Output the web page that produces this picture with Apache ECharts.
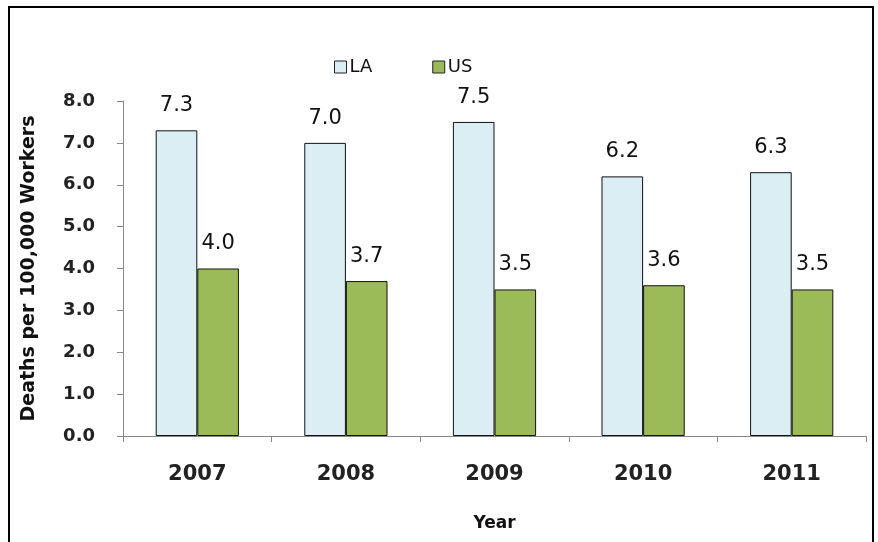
<!DOCTYPE html>
<html>
<head>
<meta charset="utf-8">
<script src="https://cdn.jsdelivr.net/npm/echarts@6/dist/echarts.min.js"></script>
<style>
  html, body { margin: 0; padding: 0; background: #fff; }
  #chart { width: 878px; height: 542px; }
</style>
</head>
<body>
<div id="chart"></div>
<script>
const years = ["2007", "2008", "2009", "2010", "2011"];
const laValues = [7.3, 7.0, 7.5, 6.2, 6.3];
const usValues = [4.0, 3.7, 3.5, 3.6, 3.5];
const yTicks = { min: 0, max: 8, interval: 1 };

const mc = echarts.init(document.getElementById("chart"));

const labelStyle = {
  show: true,
  position: "top",
  distance: 14,
  fontFamily: "DejaVu Sans",
  fontSize: 21,
  color: "#111",
  formatter: (p) => p.value.toFixed(1),
};

const option = {
  animation: false,
  backgroundColor: "#fff",
  graphic: [
    {
      type: "rect",
      shape: { x: 9, y: 7, width: 864, height: 560 },
      style: { fill: "none", stroke: "#000", lineWidth: 2 },
      silent: true,
    },
  ],
  legend: {
    top: 53,
    left: 329,
    itemGap: 60,
    itemWidth: 12,
    itemHeight: 12,
    icon: "rect",
    itemStyle: { borderColor: "#222", borderWidth: 1 },
    textStyle: {
      fontFamily: "DejaVu Sans",
      fontSize: 18,
      color: "#111",
      padding: [0, 0, 0, -2],
    },
    data: ["LA", "US"],
  },
  grid: {
    left: 123,
    right: 12,
    top: 101,
    bottom: 106,
  },
  xAxis: {
    type: "category",
    data: years,
    name: "Year",
    nameLocation: "middle",
    nameGap: 79,
    nameTextStyle: {
      fontFamily: "DejaVu Sans",
      fontWeight: "bold",
      fontSize: 17,
      color: "#111",
    },
    axisLine: { lineStyle: { color: "#888", width: 1 } },
    axisTick: { show: true, length: 6, lineStyle: { color: "#888" } },
    axisLabel: {
      margin: 28,
      fontFamily: "DejaVu Sans",
      fontWeight: "bold",
      fontSize: 21,
      color: "#222",
    },
  },
  yAxis: {
    type: "value",
    min: yTicks.min,
    max: yTicks.max,
    interval: yTicks.interval,
    name: "Deaths per 100,000 Workers",
    nameLocation: "middle",
    nameGap: 84,
    nameTextStyle: {
      fontFamily: "DejaVu Sans",
      fontWeight: "bold",
      fontSize: 19,
      color: "#111",
    },
    axisLine: { show: true, lineStyle: { color: "#888", width: 1 } },
    axisTick: { show: true, length: 6, lineStyle: { color: "#888" } },
    splitLine: { show: false },
    axisLabel: {
      margin: 28,
      fontFamily: "DejaVu Sans",
      fontWeight: "bold",
      fontSize: 18,
      color: "#222",
      formatter: (v) => v.toFixed(1),
    },
  },
  series: [
    {
      name: "LA",
      type: "bar",
      data: laValues,
      barGap: "0%",
      barCategoryGap: "44%",
      itemStyle: { color: "#dbeef4", borderColor: "#111", borderWidth: 1 },
      label: labelStyle,
    },
    {
      name: "US",
      type: "bar",
      data: usValues,
      barGap: "0%",
      barCategoryGap: "44%",
      itemStyle: { color: "#9bbb59", borderColor: "#111", borderWidth: 1 },
      label: labelStyle,
    },
  ],
};

mc.setOption(option);
</script>
</body>
</html>
